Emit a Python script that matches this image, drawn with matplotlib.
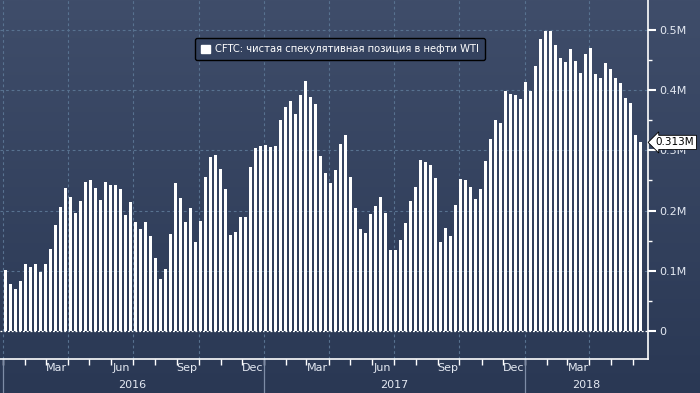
import numpy as np
import pandas as pd
import matplotlib
matplotlib.use("Agg")
import matplotlib.pyplot as plt
import matplotlib.dates as mdates
import matplotlib.transforms as mtransforms
from matplotlib.colors import LinearSegmentedColormap
from matplotlib.patches import Patch

# недельные данные CFTC, млн контрактов
first_week = "2016-01-05"
net_long = [
    0.102, 0.078, 0.070, 0.083, 0.112, 0.107, 0.112, 0.098, 0.112, 0.136,
    0.176, 0.206, 0.238, 0.223, 0.196, 0.216, 0.248, 0.251, 0.238, 0.218,
    0.248, 0.243, 0.243, 0.235, 0.193, 0.214, 0.181, 0.170, 0.181, 0.158,
    0.122, 0.087, 0.103, 0.161, 0.246, 0.221, 0.181, 0.204, 0.148, 0.183,
    0.256, 0.289, 0.292, 0.269, 0.236, 0.160, 0.165, 0.190, 0.190, 0.272,
    0.304, 0.307, 0.309, 0.306, 0.307, 0.350, 0.372, 0.382, 0.360, 0.392,
    0.415, 0.388, 0.377, 0.291, 0.262, 0.246, 0.268, 0.311, 0.325, 0.256,
    0.204, 0.170, 0.163, 0.194, 0.208, 0.223, 0.196, 0.135, 0.135, 0.151,
    0.180, 0.216, 0.239, 0.284, 0.281, 0.276, 0.254, 0.148, 0.171, 0.158,
    0.209, 0.252, 0.251, 0.239, 0.219, 0.236, 0.282, 0.319, 0.350, 0.345,
    0.398, 0.393, 0.391, 0.385, 0.413, 0.398, 0.440, 0.484, 0.498, 0.498,
    0.474, 0.453, 0.446, 0.468, 0.448, 0.428, 0.460, 0.470, 0.427, 0.420,
    0.445, 0.435, 0.420, 0.412, 0.387, 0.378, 0.325, 0.313,
]
weeks = pd.date_range(first_week, periods=len(net_long), freq="7D")
last_label = "0.313M"
legend_text = "CFTC: чистая спекулятивная позиция в нефти WTI"

y_ticks = [0, 0.1, 0.2, 0.3, 0.4, 0.5]
y_tick_labels = ["0", "0.1M", "0.2M", "0.3M", "0.4M", "0.5M"]
month_pos = pd.to_datetime(["2016-03-16", "2016-06-15", "2016-09-15", "2016-12-16",
                            "2017-03-16", "2017-06-15", "2017-09-15", "2017-12-16",
                            "2018-03-16"])
month_labels = ["Mar", "Jun", "Sep", "Dec", "Mar", "Jun", "Sep", "Dec", "Mar"]
years = ["2016", "2017", "2018"]
year_starts = pd.to_datetime(["2016-01-01", "2017-01-01", "2018-01-01"])

x_min = pd.Timestamp("2015-12-28")
x_max = pd.Timestamp("2018-06-22")

txt = "#e4e9f2"
grid_c = "#587290"

plt.rcParams['font.family'] = ['DejaVu Sans']
fig = plt.figure(figsize=(7, 3.93), dpi=100)

# фон с градиентом
bg = fig.add_axes([0, 0, 1, 1], zorder=-1)
cmap = LinearSegmentedColormap.from_list("bg", ["#3f4d6a", "#2a3854"])
bg.imshow(np.linspace(0, 1, 256).reshape(-1, 1), cmap=cmap, aspect="auto",
          extent=[0, 1, 0, 1])
bg.axis("off")

ax = fig.add_axes([0, 34 / 393, 648 / 700, 359 / 393])
ax.patch.set_alpha(0)

ax.bar(weeks, net_long, width=4.4, color="white", zorder=3)

ax.set_xlim(x_min, x_max)
ax.set_ylim(-0.046, 0.549)

# сетка
for v in y_ticks[1:]:
    ax.axhline(v, color=grid_c, lw=0.8, ls=(0, (2.5, 2.5)), zorder=1)
ax.axhline(0, color="white", lw=0.9, ls=(0, (1.5, 1.5)), zorder=1)
for d in pd.date_range("2016-01-01", "2018-06-01", freq="QS"):
    ax.axvline(d, color=grid_c, lw=0.8, ls=(0, (2.5, 2.5)), zorder=1)

# ось Y справа
ax.yaxis.tick_right()
ax.set_yticks(y_ticks)
ax.set_yticklabels(y_tick_labels)
ax.set_yticks(np.arange(0.05, 0.55, 0.1), minor=True)
ax.tick_params(axis="y", which="major", direction="out", length=6, width=1.5,
               colors="white", labelcolor=txt, labelsize=8, pad=2)
ax.tick_params(axis="y", which="minor", direction="out", length=3, width=1,
               colors="white")

# ось X
ax.set_xticks(mdates.date2num(month_pos))
ax.set_xticklabels(month_labels)
ax.set_xticks(mdates.date2num(pd.date_range("2016-01-01", "2018-06-01", freq="MS")),
              minor=True)
ax.tick_params(axis="x", which="major", length=0, labelcolor=txt, labelsize=8, pad=3)
ax.tick_params(axis="x", which="minor", direction="out", length=4, width=1,
               colors="white")

trans = mtransforms.blended_transform_factory(ax.transData, ax.transAxes)
edges = [x_min] + list(year_starts[1:]) + [x_max]
for i, y in enumerate(years):
    mid = edges[i] + (edges[i + 1] - edges[i]) / 2
    ax.text(mid, -0.072, y, transform=trans, ha="center", va="center",
            color=txt, fontsize=8)
for d in year_starts:
    ax.plot([d, d], [0, -0.12], transform=trans, color="#7d8ca6", lw=0.9,
            clip_on=False)

for s in ["top", "left"]:
    ax.spines[s].set_visible(False)
for s in ["right", "bottom"]:
    ax.spines[s].set_color("white")
    ax.spines[s].set_linewidth(1.2)

# подпись последнего значения
ytrans = mtransforms.blended_transform_factory(ax.transAxes, ax.transData)
ax.text(1.012, net_long[-1], last_label, transform=ytrans, ha="left", va="center",
        fontsize=7.5, color="black", zorder=6, clip_on=False,
        bbox=dict(boxstyle="larrow,pad=0.2", fc="white", ec="black", lw=0.6))

leg = ax.legend([Patch(facecolor="white", edgecolor="white")], [legend_text],
                loc="center", bbox_to_anchor=(0.525, 0.863), fontsize=7.2,
                frameon=True, fancybox=True, handlelength=0.9, handleheight=0.9,
                handletextpad=0.5, borderpad=0.6)
leg.get_frame().set_facecolor("#34425f")
leg.get_frame().set_edgecolor("black")
leg.get_frame().set_alpha(1)
for t in leg.get_texts():
    t.set_color("white")

fig.savefig("out.png", dpi=100)
